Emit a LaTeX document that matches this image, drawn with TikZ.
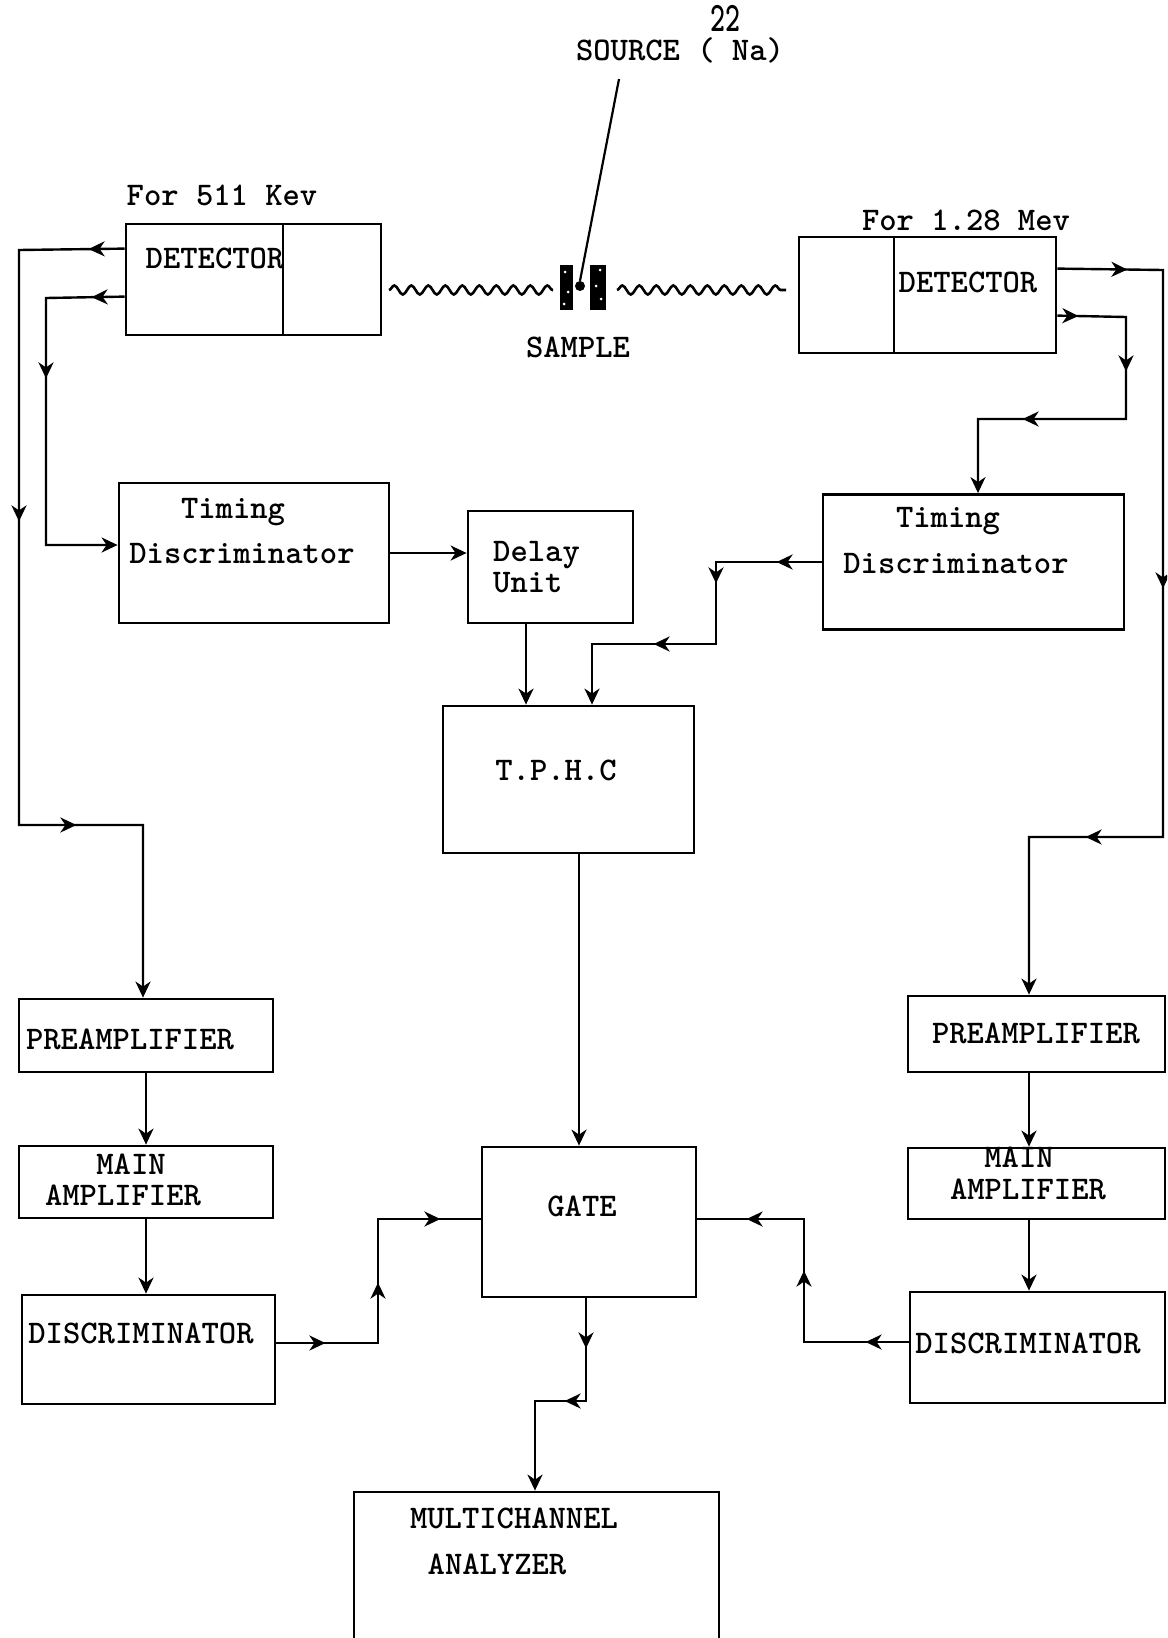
\documentclass[tikz,border=0pt]{standalone}
\usepackage{fontspec}
\usetikzlibrary{arrows.meta,decorations.markings,decorations.pathmorphing}
\newfontfamily\twfam{lmmonolt10-bold}[Extension=.otf]
\newcommand{\twfont}{\twfam\fontsize{33}{38}\selectfont}
\tikzset{
  every node/.style={font=\twfont},
  box/.style={draw, line width=2.8pt, inner sep=0pt},
  lbl/.style={anchor=base, inner sep=0pt},
  wire/.style={line width=2.4pt},
  tip/.style={-{Stealth[length=16pt,width=15pt,inset=5pt]}},
  arr/.style={postaction={decorate, decoration={markings, mark=at position #1 with {\arrow{Stealth[length=16pt,width=15pt,inset=5pt]}}}}},
  wave/.style={decorate, decoration={snake, segment length=17pt, amplitude=4.5pt}, line width=2.6pt},
  blk/.style={fill=black, inner sep=0pt},
  speck/.style={circle, fill=white, inner sep=0pt, minimum size=3pt}
}
\begin{document}
\begin{tikzpicture}[x=1pt,y=-1pt]
\useasboundingbox (0,0) rectangle (1167,1638);
\clip (0,0) rectangle (1167,1638);
% boxes
\node[box, minimum width=255pt, minimum height=111pt] (LD) at (253.5,279.5) {};
\node[box, minimum width=257pt, minimum height=116pt] (RD) at (927.5,295) {};
\node[box, minimum width=270pt, minimum height=140pt] (LT) at (254,553) {};
\node[box, minimum width=165pt, minimum height=112pt] (DU) at (550.5,567) {};
\node[box, minimum width=301pt, minimum height=135pt] (RT) at (973.5,562) {};
\node[box, minimum width=251pt, minimum height=147pt] (TPHC) at (568.5,779.5) {};
\node[box, minimum width=254pt, minimum height=73pt] (LP) at (146,1035.5) {};
\node[box, minimum width=254pt, minimum height=72pt] (LM) at (146,1182) {};
\node[box, minimum width=253pt, minimum height=109pt] (LDi) at (148.5,1349.5) {};
\node[box, minimum width=214pt, minimum height=150pt] (Gate) at (589,1222) {};
\node[box, minimum width=257pt, minimum height=76pt] (RP) at (1036.5,1034) {};
\node[box, minimum width=257pt, minimum height=71pt] (RM) at (1036.5,1183.5) {};
\node[box, minimum width=255pt, minimum height=111pt] (RDi) at (1037.5,1347.5) {};
\node[box, minimum width=365pt, minimum height=188pt] (MCA) at (536.5,1586) {};
% detector dividers
\draw[line width=2.2pt] ([xshift=29.5pt]LD.north) -- ([xshift=29.5pt]LD.south);
\draw[line width=2.2pt] ([xshift=-33.5pt]RD.north) -- ([xshift=-33.5pt]RD.south);
% sample and source
\node[blk, minimum width=13pt, minimum height=45pt] (sL) at (566.5,287.5) {};
\node[blk, minimum width=16pt, minimum height=45pt] (sR) at (598,287.5) {};
\node[speck] (k1) at (565,272) {};
\node[speck] (k2) at (568,292) {};
\node[speck] (k3) at (564,304) {};
\node[speck] (k4) at (600,270) {};
\node[speck] (k5) at (596,286) {};
\node[speck] (k6) at (601,299) {};
\node[circle, blk, minimum size=10pt] (dot) at (580,286) {};
\coordinate (wl1) at (389,290);
\coordinate (wl2) at (553,290);
\coordinate (wr1) at (617,290);
\coordinate (wr2) at (786,290);
\draw[wave] (wl1) -- (wl2);
\draw[wave] (wr1) -- (wr2);
\node[lbl, text height=19pt] (src) at (680,60) {SOURCE ( Na)};
\node[anchor=base west, inner sep=0pt] (iso) at (710,31) {\scalebox{0.95}[1.4]{\fontsize{30}{30}\selectfont 22}};
\coordinate (ld1) at (619,79);
\draw[line width=2.2pt] (ld1) -- (dot.north);
% labels
\node[lbl] (t511) at (222,205) {For 511 Kev};
\node[lbl] (t128) at (966,230) {For 1.28 Mev};
\node[lbl] (tLD) at (215,268) {DETECTOR};
\node[lbl] (tRD) at (968,292) {DETECTOR};
\node[lbl] (tS) at (578,357) {SAMPLE};
\node[lbl] (tLT1) at (233,518) {Timing};
\node[lbl] (tLT2) at (242,563) {Discriminator};
\node[anchor=base west, inner sep=0pt] (tDU1) at (493,561) {Delay};
\node[anchor=base west, inner sep=0pt] (tDU2) at (493,592) {Unit};
\node[lbl] (tRT1) at (948,527) {Timing};
\node[lbl] (tRT2) at (956,573) {Discriminator};
\node[lbl] (tT) at (556,780) {T.P.H.C};
\node[lbl] (tLP) at (130,1049) {PREAMPLIFIER};
\node[lbl] (tLM1) at (131,1174) {MAIN};
\node[lbl] (tLM2) at (123,1205) {AMPLIFIER};
\node[lbl] (tLDi) at (141,1343) {DISCRIMINATOR};
\node[lbl] (tG) at (582,1216) {GATE};
\node[lbl] (tRP) at (1036,1043) {PREAMPLIFIER};
\node[lbl] (tRM1) at (1019,1167) {MAIN};
\node[lbl] (tRM2) at (1028,1199) {AMPLIFIER};
\node[lbl] (tRDi) at (1028,1353) {DISCRIMINATOR};
\node[lbl] (tM1) at (514,1528) {MULTICHANNEL};
\node[lbl] (tM2) at (497,1574) {ANALYZER};
% helper coordinates
\coordinate (d1) at ([xshift=-24.5pt]DU.south);
\coordinate (r1) at ([xshift=-7.5pt]RP.south);
\coordinate (r2) at ([xshift=-7.5pt]RM.south);
\coordinate (t1) at ([xshift=10.5pt]TPHC.south);
% connectors
\draw[wire, tip, arr=36pt, arr=377pt, arr=738pt] ([yshift=-26pt]LD.north west) -- (19,250) -- (19,825) -- (143,825) -- (143,825 |- LP.north);
\draw[wire, tip, arr=33pt, arr=159pt] ([yshift=-74pt]LD.north west) -- (46,298) -- (46,545) -- (46,545 -| LT.west);
\draw[wire, tip] (LT.east) -- (LT.east -| DU.west);
\draw[wire, tip] (d1) -- (d1 |- TPHC.north);
\draw[wire, tip, arr=45pt, arr=127pt, arr=250pt] (RT.west) -- (716,562) -- (716,644) -- (592,644) -- (592,644 |- TPHC.north);
\draw[wire, tip, arr=70pt, arr=424pt, arr=750pt] ([yshift=-33pt]RD.north east) -- (1163,270) -- (1163,837) -- (1029,837) -- (1029,837 |- RP.north);
\draw[wire, tip, arr=21pt, arr=123pt, arr=274pt] ([yshift=-80pt]RD.north east) -- (1126,317) -- (1126,419) -- (978,419) -- (978,419 |- RT.north);
\draw[wire, tip] (LP.south) -- (LM.north);
\draw[wire, tip] (LM.south) -- (LM.south |- LDi.north);
\draw[wire, tip] (r1) -- (r1 |- RM.north);
\draw[wire, tip] (r2) -- (r2 |- RDi.north);
\draw[wire, tip] (t1) -- (t1 |- Gate.north);
\draw[wire, arr=49pt, arr=162pt, arr=288pt] ([yshift=6.5pt]LDi.east) -- (378,1343) -- (378,1219) -- (378,1219 -| Gate.west);
\draw[wire, arr=43pt, arr=176pt, arr=285pt] ([yshift=5.5pt]RDi.west) -- (804,1342) -- (804,1219) -- (804,1219 -| Gate.east);
\draw[wire, tip, arr=50pt, arr=124pt] ([xshift=-3pt]Gate.south) -- (586,1401) -- (535,1401) -- (535,1401 |- MCA.north);
\end{tikzpicture}
\end{document}
